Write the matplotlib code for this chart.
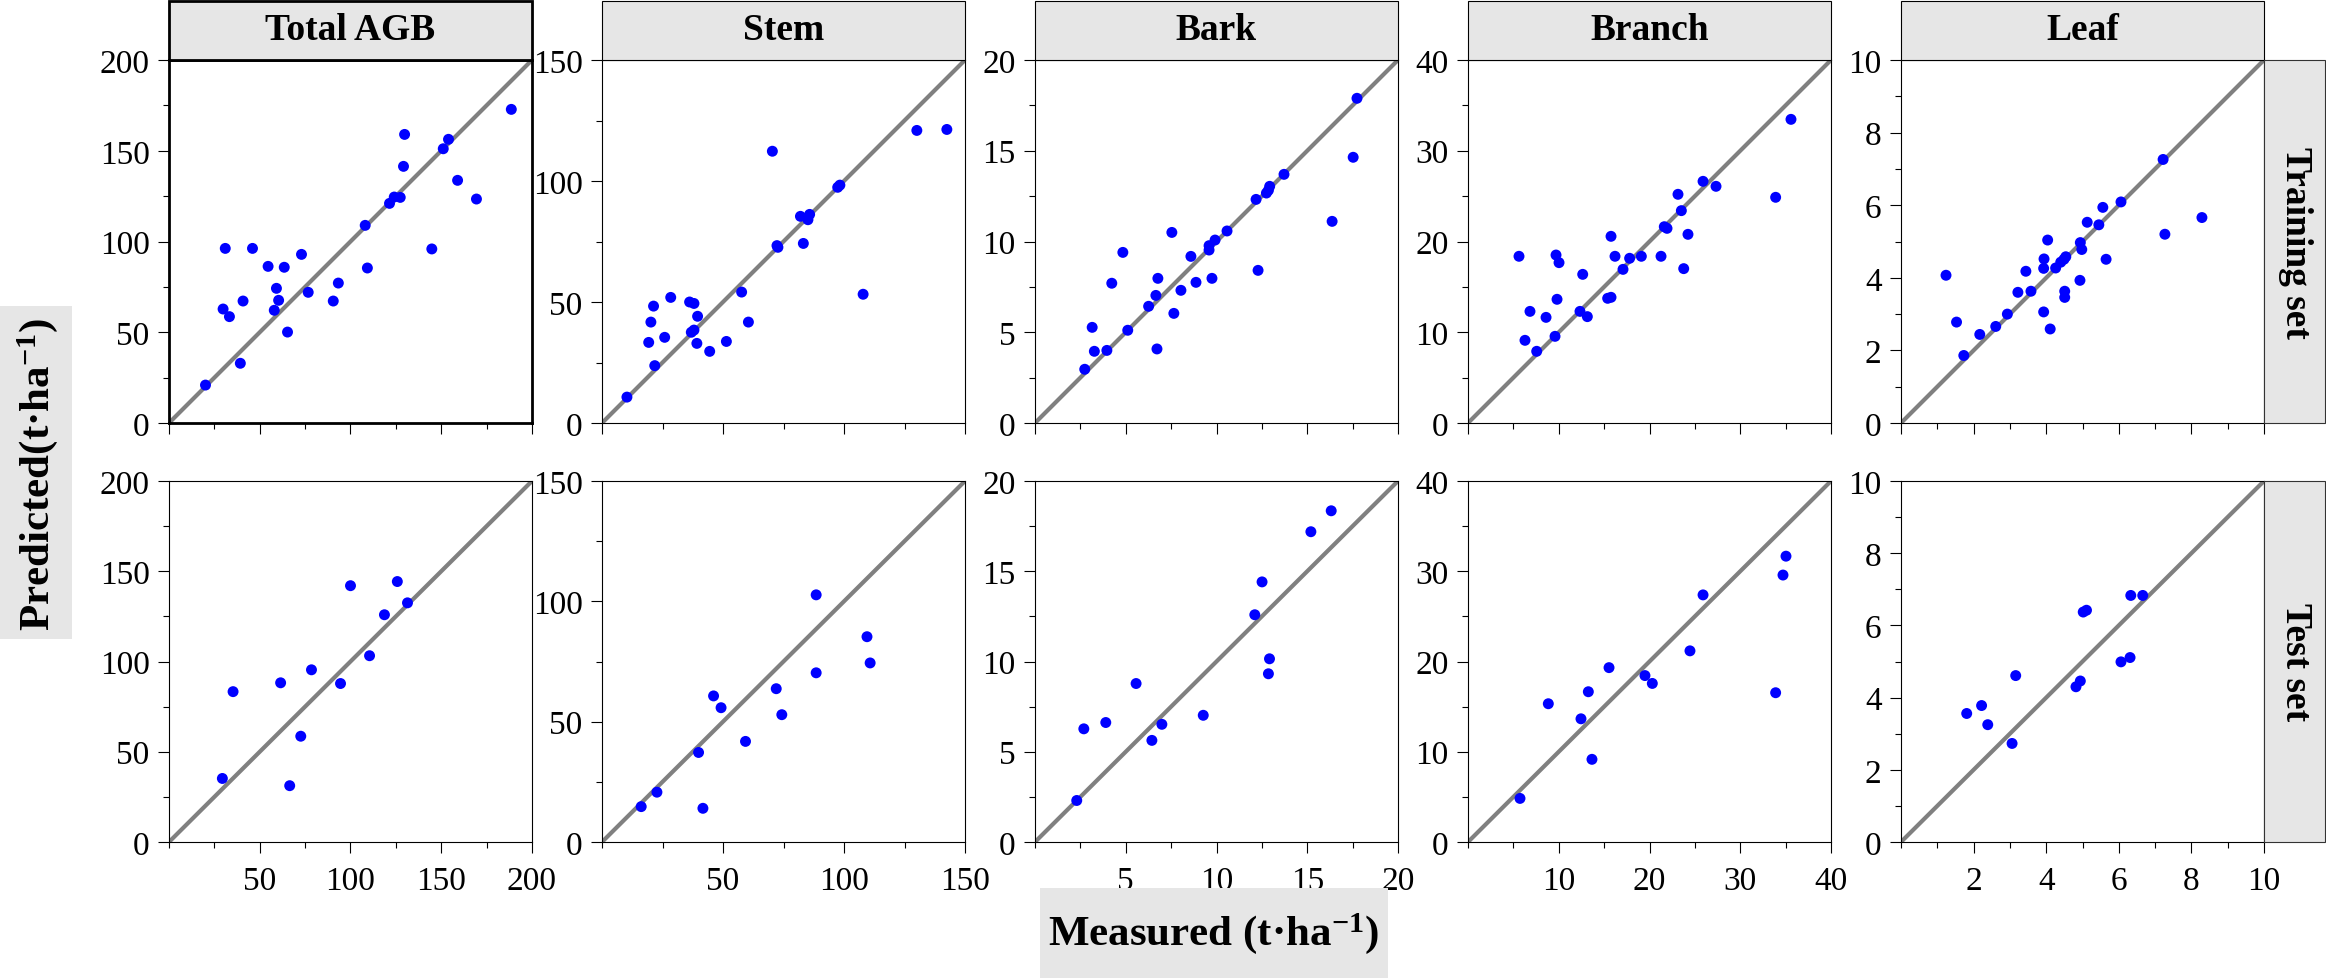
import numpy as np
import matplotlib
matplotlib.use("Agg")
import matplotlib.pyplot as plt
from matplotlib.patches import Rectangle
from matplotlib.ticker import MultipleLocator

plt.rcParams['font.family'] = ['Liberation Serif', 'DejaVu Serif']
plt.rcParams['mathtext.fontset'] = 'custom'
plt.rcParams['mathtext.rm'] = 'Liberation Serif:bold'
plt.rcParams['mathtext.bf'] = 'Liberation Serif:bold'
plt.rcParams['mathtext.it'] = 'Liberation Serif:bold:italic'

# ---- data (measured, predicted) ----
components = ["Total AGB", "Stem", "Bark", "Branch", "Leaf"]
row_names = ["Training set", "Test set"]
axis_max = [200, 150, 20, 40, 10]
major_step = [50, 50, 5, 10, 2]

agb_train_x = [20.1, 29.8, 31.0, 33.3, 39.3, 40.8, 46.0, 54.6, 63.5, 59.2, 60.4, 58.0, 65.3, 73.0, 76.7,
               90.5, 93.3, 108.1, 109.3, 121.5, 124.1, 127.4, 129.2, 129.8, 144.8, 151.1, 154.0, 159.0, 169.4, 188.6]
agb_train_y = [20.9, 62.8, 96.2, 58.6, 32.9, 67.2, 96.2, 86.3, 85.8, 74.2, 67.6, 62.1, 50.1, 92.9, 72.0,
               67.2, 77.1, 108.9, 85.4, 121.0, 124.5, 124.3, 141.4, 159.0, 95.9, 151.1, 156.3, 133.7, 123.4, 172.8]
agb_test_x = [29.4, 35.3, 61.5, 66.5, 72.6, 78.5, 94.5, 100.0, 110.5, 118.7, 125.8, 131.4]
agb_test_y = [35.2, 83.3, 88.2, 31.2, 58.6, 95.4, 87.8, 142.0, 103.2, 125.9, 144.3, 132.5]

stem_train_x = [10.3, 21.8, 19.3, 20.2, 21.3, 25.9, 28.4, 36.2, 38.0, 39.5, 36.9, 38.0, 39.2, 44.5, 51.4,
                57.7, 60.5, 70.4, 72.3, 72.7, 83.2, 82.0, 85.1, 85.8, 97.4, 98.3, 107.9, 130.1, 142.5]
stem_train_y = [10.7, 23.7, 33.3, 41.7, 48.3, 35.4, 51.9, 50.0, 49.4, 44.1, 37.5, 38.4, 32.9, 29.6, 33.7,
                54.1, 41.7, 112.3, 73.3, 72.6, 74.2, 85.4, 84.0, 86.2, 97.4, 98.3, 53.2, 120.9, 121.3]
stem_test_x = [16.2, 22.7, 39.9, 41.7, 46.1, 49.2, 59.3, 72.0, 74.3, 88.5, 88.5, 109.5, 110.8]
stem_test_y = [14.7, 20.7, 37.2, 14.0, 60.7, 55.8, 41.8, 63.7, 52.9, 102.7, 70.3, 85.3, 74.4]

bark_train_x = [2.74, 3.15, 3.27, 3.96, 4.23, 4.84, 5.11, 6.26, 6.66, 6.77, 6.72, 7.54, 7.65, 8.04, 8.59,
                8.87, 9.59, 9.59, 9.75, 9.92, 10.58, 12.18, 12.29, 12.75, 12.86, 12.93, 13.72, 16.37, 17.53, 17.74]
bark_train_y = [2.96, 5.27, 3.95, 4.00, 7.70, 9.40, 5.11, 6.43, 7.03, 7.97, 4.08, 10.50, 6.04, 7.31, 9.18,
                7.75, 9.77, 9.53, 7.97, 10.08, 10.58, 12.32, 8.41, 12.67, 12.82, 13.04, 13.70, 11.11, 14.64, 17.89]
bark_test_x = [2.30, 2.69, 3.90, 5.57, 6.44, 6.99, 9.27, 12.11, 12.51, 12.86, 12.92, 15.20, 16.32]
bark_test_y = [2.30, 6.27, 6.62, 8.78, 5.63, 6.52, 7.02, 12.59, 14.41, 9.32, 10.15, 17.19, 18.35]

branch_train_x = [5.62, 6.28, 6.83, 7.57, 8.60, 9.59, 9.70, 9.81, 10.03, 12.34, 12.64, 13.15, 15.39, 15.76, 15.76,
                  16.20, 17.08, 17.81, 19.10, 21.27, 21.63, 21.93, 23.14, 23.51, 23.77, 24.24, 25.90, 27.33, 33.90, 35.59]
branch_train_y = [18.37, 9.11, 12.30, 7.90, 11.64, 9.55, 18.51, 13.63, 17.67, 12.30, 16.38, 11.72, 13.74, 13.85, 20.57,
                  18.37, 16.93, 18.15, 18.37, 18.37, 21.63, 21.45, 25.20, 23.40, 17.01, 20.79, 26.63, 26.08, 24.87, 33.46]
branch_test_x = [5.73, 8.85, 12.45, 13.26, 13.66, 15.54, 19.50, 20.31, 24.46, 25.90, 33.90, 34.71, 35.04]
branch_test_y = [4.83, 15.32, 13.65, 16.65, 9.16, 19.32, 18.44, 17.57, 21.18, 27.38, 16.54, 29.58, 31.67]

leaf_train_x = [1.24, 1.53, 1.73, 2.17, 2.61, 2.93, 3.22, 3.44, 3.58, 3.93, 3.93, 3.94, 4.04, 4.11, 4.26, 4.40,
                4.49, 4.54, 4.51, 4.51, 4.93, 4.94, 4.98, 5.13, 5.45, 5.56, 5.65, 6.06, 7.22, 7.27, 8.29]
leaf_train_y = [4.07, 2.78, 1.86, 2.44, 2.66, 3.00, 3.60, 4.18, 3.63, 3.06, 4.26, 4.52, 5.04, 2.59, 4.27, 4.43,
                4.51, 4.58, 3.63, 3.46, 3.93, 4.97, 4.78, 5.53, 5.46, 5.94, 4.51, 6.09, 7.26, 5.20, 5.66]
leaf_test_x = [1.81, 2.22, 2.39, 3.06, 3.16, 4.82, 4.94, 5.02, 5.11, 6.06, 6.31, 6.33, 6.66]
leaf_test_y = [3.56, 3.78, 3.25, 2.73, 4.61, 4.30, 4.46, 6.37, 6.42, 4.99, 5.11, 6.83, 6.83]

train_sets = [(agb_train_x, agb_train_y), (stem_train_x, stem_train_y), (bark_train_x, bark_train_y),
              (branch_train_x, branch_train_y), (leaf_train_x, leaf_train_y)]
test_sets = [(agb_test_x, agb_test_y), (stem_test_x, stem_test_y), (bark_test_x, bark_test_y),
             (branch_test_x, branch_test_y), (leaf_test_x, leaf_test_y)]

# ---- layout in pixels ----
W, H = 2326, 979
left_px = [169, 602, 1035, 1468, 1901]
right_px = [532, 965, 1398, 1831, 2264]
rows_px = [(61, 424), (482, 843)]
strip_gray = '#e6e6e6'


def fig_rect(x0, y0, x1, y1):
    return [x0 / W, 1 - y1 / H, (x1 - x0) / W, (y1 - y0) / H]


fig = plt.figure(figsize=(W / 100, H / 100), dpi=100)

for r, data in enumerate([train_sets, test_sets]):
    y0, y1 = rows_px[r]
    for c in range(5):
        ax = fig.add_axes(fig_rect(left_px[c], y0, right_px[c], y1))
        mx = axis_max[c]
        xs, ys = data[c]
        ax.plot([0, mx], [0, mx], color='#808080', lw=3, zorder=2)
        ax.scatter(xs, ys, s=62, color='#0000ff', edgecolors='none', zorder=3, clip_on=False)
        ax.set_xlim(0, mx)
        ax.set_ylim(0, mx)
        ax.xaxis.set_major_locator(MultipleLocator(major_step[c]))
        ax.yaxis.set_major_locator(MultipleLocator(major_step[c]))
        ax.xaxis.set_minor_locator(MultipleLocator(major_step[c] / 2))
        ax.yaxis.set_minor_locator(MultipleLocator(major_step[c] / 2))
        ax.tick_params(which='major', direction='out', length=8, width=0.8, labelsize=24)
        ax.tick_params(which='minor', direction='out', length=4.3, width=0.8)
        ax.tick_params(axis='y', which='major', pad=6)
        ax.tick_params(axis='x', which='major', pad=9)
        ax.tick_params(top=False, right=False)
        if r == 0:
            ax.tick_params(labelbottom=False)
        else:
            ticks = np.arange(major_step[c], mx + 0.01, major_step[c])
            ax.set_xticks(ticks)
            ax.set_xticklabels([f"{t:g}" for t in ticks])
        lw = 2 if (r == 0 and c == 0) else 0.8
        for sp in ax.spines.values():
            sp.set_linewidth(lw)

        # strip header on top row
        if r == 0:
            fig.add_artist(Rectangle((left_px[c] / W, 1 - 61 / H), (right_px[c] - left_px[c]) / W, 59 / H,
                                     transform=fig.transFigure, facecolor=strip_gray,
                                     edgecolor='black', lw=lw))
            fig.text((left_px[c] + right_px[c]) / 2 / W, 1 - 31 / H, components[c],
                     ha='center', va='center', fontsize=27, fontweight='bold')

    # row strip on the right
    fig.add_artist(Rectangle((2264 / W, 1 - y1 / H), 61 / W, (y1 - y0) / H,
                             transform=fig.transFigure, facecolor=strip_gray,
                             edgecolor='#333333', lw=0.8))
    fig.text(2295 / W, 1 - (y0 + y1) / 2 / H, row_names[r], rotation=-90,
             ha='center', va='center', fontsize=27, fontweight='bold')

# axis titles with gray boxes
fig.add_artist(Rectangle((0, 1 - 640 / H), 72 / W, 333 / H, transform=fig.transFigure,
                         facecolor=strip_gray, edgecolor='none'))
fig.text(38 / W, 1 - 474 / H, 'Predicted(t·ha$^{-1}$)', rotation=90,
         ha='center', va='center', fontsize=31, fontweight='bold')

fig.add_artist(Rectangle((1040 / W, 0), 348 / W, 90 / H, transform=fig.transFigure,
                         facecolor=strip_gray, edgecolor='none'))
fig.text(1214 / W, 1 - 934 / H, 'Measured (t·ha$^{-1}$)',
         ha='center', va='center', fontsize=31, fontweight='bold')

fig.savefig('out.png', dpi=100)
